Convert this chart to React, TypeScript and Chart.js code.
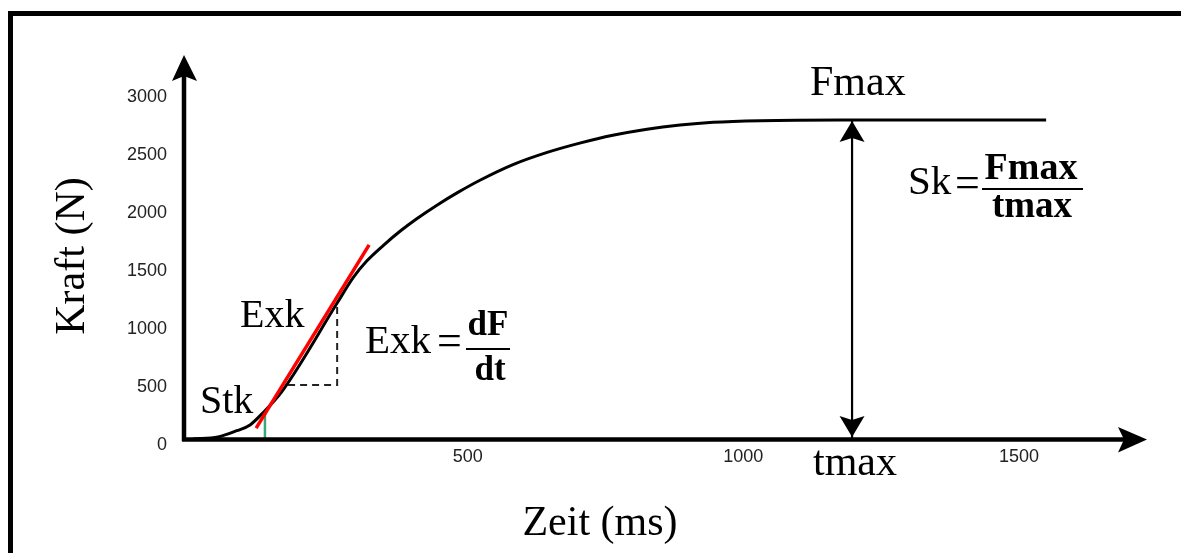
import React, { useEffect, useRef } from "react";
import { Chart, registerables } from "chart.js";

Chart.register(...registerables);

// Force curve (time in ms, force in N)
const curveTime = [15, 60, 94, 118, 141, 176, 276, 305, 330, 359, 390, 421, 457, 495, 535, 595, 657, 716, 776, 838, 898, 958, 1043, 1188, 1562];
const curveForce = [9, 26, 80, 130, 233, 420, 1181, 1400, 1545, 1675, 1800, 1910, 2025, 2135, 2240, 2375, 2480, 2560, 2628, 2680, 2716, 2740, 2754, 2760, 2760];

// Tangent (Exk)
const tangentTime = [129, 334];
const tangentForce = [103, 1682];

// Slope triangle dF / dt
const triangleTime = [187, 276, 276];
const triangleForce = [474, 474, 1181];

// Start of force (Stk)
const stkTime = [145, 145];
const stkForce = [0, 233];

// Fmax / tmax
const tMax = 1210;
const fMax = 2760;

const xTickValues = [500, 1000, 1500];
const yTickValues = [0, 500, 1000, 1500, 2000, 2500, 3000];

const X_MAX = 1745;
const Y_MAX = 3320;

const SERIF = '"Liberation Serif", "Times New Roman", serif';

const zip = (xs: number[], ys: number[]) => xs.map((x, i) => ({ x, y: ys[i] }));

export default function App() {
  const ref = useRef<HTMLCanvasElement | null>(null);

  useEffect(() => {
    document.body.style.margin = "0";
    document.body.style.overflow = "hidden";
    const canvas = ref.current;
    if (!canvas) return;

    const decor = {
      id: "decor",
      beforeDraw(chart: any) {
        const ctx = chart.ctx;
        ctx.save();
        ctx.fillStyle = "#ffffff";
        ctx.fillRect(0, 0, chart.width, chart.height);
        ctx.restore();
      },
      afterDatasetsDraw(chart: any) {
        const ctx = chart.ctx;
        const { left, right, top, bottom } = chart.chartArea;
        const xs = chart.scales.x;
        const ys = chart.scales.y;
        ctx.save();
        ctx.fillStyle = "#000";
        ctx.strokeStyle = "#000";
        // y axis
        ctx.lineWidth = 4.5;
        ctx.beginPath();
        ctx.moveTo(left - 1, bottom + 1);
        ctx.lineTo(left - 1, top + 20);
        ctx.stroke();
        ctx.beginPath();
        ctx.moveTo(left - 1, top);
        ctx.lineTo(left - 13, top + 26);
        ctx.lineTo(left - 1, top + 21);
        ctx.lineTo(left + 12, top + 26);
        ctx.closePath();
        ctx.fill();
        // x axis
        ctx.beginPath();
        ctx.moveTo(left - 3, bottom - 0.5);
        ctx.lineTo(right - 22, bottom - 0.5);
        ctx.stroke();
        ctx.beginPath();
        ctx.moveTo(right, bottom - 0.5);
        ctx.lineTo(right - 29, bottom - 13);
        ctx.lineTo(right - 23, bottom - 0.5);
        ctx.lineTo(right - 29, bottom + 12.5);
        ctx.closePath();
        ctx.fill();
        // double arrow heads at tmax
        const ax = xs.getPixelForValue(tMax);
        const ayTop = ys.getPixelForValue(fMax) + 1;
        const ayBot = ys.getPixelForValue(0) - 3;
        ctx.beginPath();
        ctx.moveTo(ax, ayTop);
        ctx.lineTo(ax - 12.5, ayTop + 21);
        ctx.lineTo(ax, ayTop + 17);
        ctx.lineTo(ax + 12.5, ayTop + 21);
        ctx.closePath();
        ctx.fill();
        ctx.beginPath();
        ctx.moveTo(ax, ayBot);
        ctx.lineTo(ax - 12.5, ayBot - 21);
        ctx.lineTo(ax, ayBot - 17);
        ctx.lineTo(ax + 12.5, ayBot - 21);
        ctx.closePath();
        ctx.fill();
        ctx.restore();
      },
      afterDraw(chart: any) {
        const ctx = chart.ctx;
        ctx.save();
        ctx.fillStyle = "#000";
        // frame
        ctx.fillRect(8, 11, 5, chart.height);
        ctx.fillRect(8, 11, chart.width, 5);

        const txt = (s: string, x: number, y: number, size: number, align: CanvasTextAlign = "left", weight = "normal") => {
          ctx.font = `${weight} ${size}px ${SERIF}`;
          ctx.textAlign = align;
          ctx.textBaseline = "alphabetic";
          ctx.fillText(s, x, y);
        };

        // axis titles
        ctx.save();
        ctx.translate(84, 256);
        ctx.rotate(-Math.PI / 2);
        txt("Kraft (N)", 0, 0, 42, "center");
        ctx.restore();
        txt("Zeit (ms)", 600, 535, 42, "center");

        // labels
        txt("Fmax", 810, 95, 42);
        txt("tmax", 813, 475, 42);
        txt("Exk", 240, 327, 40);
        txt("Stk", 200, 413, 40);

        // Exk = dF/dt
        txt("Exk", 365, 353, 41);
        txt("=", 449.5, 355, 44, "center");
        txt("dF", 488, 335, 35, "center", "bold");
        ctx.fillRect(466, 348, 44, 2);
        txt("dt", 490, 380, 35, "center", "bold");

        // Sk = Fmax/tmax
        txt("Sk", 908, 194, 41);
        txt("=", 967.5, 197, 44, "center");
        txt("Fmax", 1031, 179, 38, "center", "bold");
        ctx.fillRect(982, 188, 101, 2);
        txt("tmax", 1032, 217, 37, "center", "bold");
        ctx.restore();
      },
    };

    const chart = new Chart(canvas, {
      type: "line",
      data: {
        datasets: [
          {
            data: zip(tangentTime, tangentForce),
            borderColor: "#ff0000",
            borderWidth: 3.5,
            pointRadius: 0,
          },
          {
            data: zip(stkTime, stkForce),
            borderColor: "#3aa874",
            borderWidth: 2.5,
            pointRadius: 0,
          },
          {
            data: zip(curveTime, curveForce),
            borderColor: "#000000",
            borderWidth: 3,
            pointRadius: 0,
            cubicInterpolationMode: "monotone",
          },
          {
            data: zip(triangleTime, triangleForce),
            borderColor: "#222222",
            borderWidth: 2,
            borderDash: [7, 5],
            pointRadius: 0,
          },
          {
            data: zip([tMax, tMax], [0, fMax]),
            borderColor: "#000000",
            borderWidth: 2.2,
            pointRadius: 0,
          },
        ] as any,
      },
      options: {
        animation: false,
        responsive: true,
        maintainAspectRatio: false,
        layout: { padding: { top: 55, right: 34, left: 0, bottom: 0 } },
        plugins: { legend: { display: false }, tooltip: { enabled: false }, title: { display: false } },
        scales: {
          x: {
            type: "linear",
            min: 0,
            max: X_MAX,
            grid: { display: false, drawTicks: false },
            border: { display: false },
            afterFit: (s: any) => {
              s.height = 113;
            },
            afterBuildTicks: (s: any) => {
              s.ticks = xTickValues.map((v) => ({ value: v }));
            },
            ticks: {
              padding: 6,
              labelOffset: 7,
              color: "#222",
              font: { family: '"Liberation Sans", Arial, sans-serif', size: 18 },
              maxRotation: 0,
              autoSkip: false,
              callback: (v: any) => String(v),
            },
          },
          y: {
            type: "linear",
            min: 0,
            max: Y_MAX,
            grid: { display: false, drawTicks: false },
            border: { display: false },
            afterFit: (s: any) => {
              s.width = 185;
            },
            afterBuildTicks: (s: any) => {
              s.ticks = yTickValues.map((v) => ({ value: v }));
            },
            ticks: {
              padding: 18,
              labelOffset: 5,
              color: "#222",
              font: { family: '"Liberation Sans", Arial, sans-serif', size: 18 },
              autoSkip: false,
              callback: (v: any) => String(v),
            },
          },
        },
      } as any,
      plugins: [decor],
    });
    return () => chart.destroy();
  }, []);

  return (
    <div style={{ width: 1181, height: 553, position: "relative" }}>
      <canvas ref={ref} />
    </div>
  );
}
